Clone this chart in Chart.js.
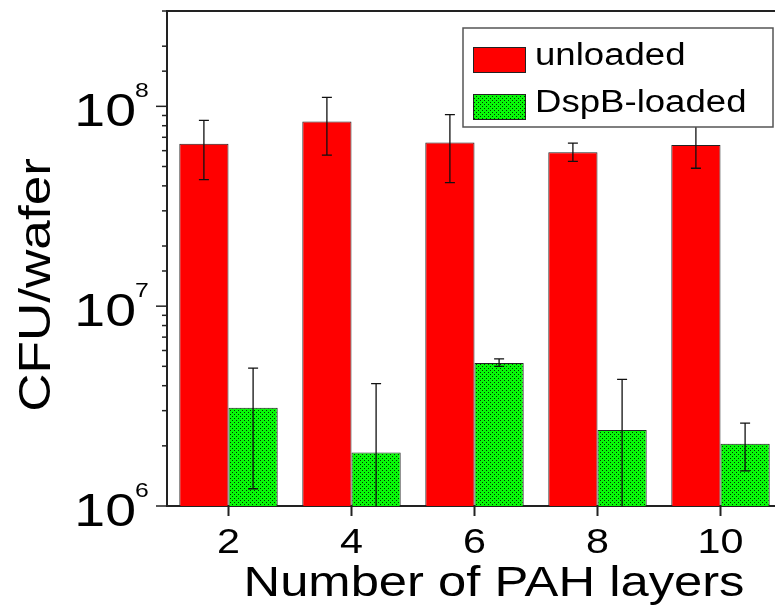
<!DOCTYPE html>
<html>
<head>
<meta charset="utf-8">
<script src="https://cdn.jsdelivr.net/npm/chart.js@4"></script>
<style>
  html, body { margin: 0; padding: 0; background: #fff; overflow: hidden; width: 775px; height: 614px; }
  #cfuChart { display: block; }
</style>
</head>
<body>
<canvas id="cfuChart" width="790" height="614"></canvas>
<script>
/* ---------------- DATA ---------------- */
const layers = ["2", "4", "6", "8", "10"];

const unloaded     = [6.5e7, 8.4e7, 6.6e7, 5.9e7, 6.4e7];
const unloadedLow  = [4.3e7, 5.7e7, 4.15e7, 5.3e7, 4.9e7];
const unloadedHigh = [8.5e7, 1.11e8, 9.1e7, 6.55e7, 8.6e7];

const loaded     = [3.1e6, 1.85e6, 5.2e6, 2.4e6, 2.05e6];
const loadedLow  = [1.22e6, null, 5.0e6, null, 1.5e6];   // null = below the axis
const loadedHigh = [4.9e6, 4.1e6, 5.45e6, 4.3e6, 2.6e6];

const yMin = 1e6;
const yMax = 3e8;

/* ---------------- HELPERS ---------------- */
const FONT = '"Liberation Sans", Arial, sans-serif';
const SX = 1.18;   // the reference text is drawn wide

function wideText(ctx, txt, x, y, size, align, rot) {
    ctx.save();
    ctx.translate(x, y);
    if (rot) ctx.rotate(rot);
    ctx.scale(SX, 1);
    ctx.font = size + "px " + FONT;
    ctx.fillStyle = "#000";
    ctx.textAlign = align;
    ctx.textBaseline = "alphabetic";
    ctx.fillText(txt, 0, 0);
    ctx.restore();
}

// green cross-hatch fill
const tile = document.createElement("canvas");
tile.width = 4;
tile.height = 4;
const tctx = tile.getContext("2d");
tctx.fillStyle = "#08f808";
tctx.fillRect(0, 0, 4, 4);
tctx.fillStyle = "#003300";
tctx.fillRect(0, 0, 1, 1);
tctx.fillRect(2, 2, 1, 1);
const greenFill = tctx.createPattern(tile, "repeat");

/* ---------------- PLUGINS ---------------- */
const errorBars = {
    id: "errorBars",
    afterDatasetsDraw(chart) {
        const ctx = chart.ctx;
        const y = chart.scales.y;
        const area = chart.chartArea;
        const lows = [unloadedLow, loadedLow];
        const highs = [unloadedHigh, loadedHigh];

        ctx.save();
        ctx.beginPath();
        ctx.rect(area.left, area.top, area.right - area.left, area.bottom - area.top);
        ctx.clip();
        ctx.strokeStyle = "#111";
        ctx.lineWidth = 1.3;

        chart.data.datasets.forEach((ds, i) => {
            chart.getDatasetMeta(i).data.forEach((bar, j) => {
                const x = bar.x;
                const hi = y.getPixelForValue(highs[i][j]);
                const lo = lowValue(lows[i][j], y, area);
                ctx.beginPath();
                ctx.moveTo(x, hi);
                ctx.lineTo(x, lo.px);
                ctx.moveTo(x - 5, hi);
                ctx.lineTo(x + 5, hi);
                if (lo.cap) {
                    ctx.moveTo(x - 5, lo.px);
                    ctx.lineTo(x + 5, lo.px);
                }
                ctx.stroke();
            });
        });
        ctx.restore();
    }
};

function lowValue(v, y, area) {
    if (v === null) return { px: area.bottom, cap: false };
    return { px: y.getPixelForValue(v), cap: true };
}

const decorations = {
    id: "decorations",
    afterDraw(chart) {
        const ctx = chart.ctx;
        const area = chart.chartArea;
        const y = chart.scales.y;
        const x = chart.scales.x;

        ctx.save();

        // frame top
        ctx.strokeStyle = "#222";
        ctx.lineWidth = 2;
        ctx.beginPath();
        ctx.moveTo(area.left - 1, area.top);
        ctx.lineTo(area.right + 10, area.top);
        ctx.stroke();

        // y ticks, major and minor
        ctx.lineWidth = 1.5;
        y.ticks.forEach(t => {
            const py = y.getPixelForValue(t.value);
            const exp = Math.log10(t.value);
            const major = Math.abs(exp - Math.round(exp)) < 1e-9;
            ctx.beginPath();
            ctx.moveTo(area.left, py);
            ctx.lineTo(area.left - (major ? 11 : 5), py);
            ctx.stroke();
            if (major) {
                wideText(ctx, "10", 136, py + 20, 47, "right");
                wideText(ctx, String(Math.round(exp)), 135, py - 9, 21, "left");
            }
        });

        // x tick labels
        layers.forEach((lab, i) => {
            wideText(ctx, lab, x.getPixelForValue(i), 553, 35, "center");
        });

        // axis titles
        wideText(ctx, "Number of PAH layers", 494, 596, 43, "center");
        wideText(ctx, "CFU/wafer", 50, 285, 45, "center", -Math.PI / 2);

        // legend
        const lx = 463, ly = 28, lw = 310, lh = 99;
        ctx.fillStyle = "#fff";
        ctx.fillRect(lx, ly, lw, lh);
        ctx.strokeStyle = "#555";
        ctx.lineWidth = 1.5;
        ctx.strokeRect(lx, ly, lw, lh);

        const rows = [47, 94];
        chart.data.datasets.forEach((ds, i) => {
            ctx.fillStyle = ds.backgroundColor;
            ctx.fillRect(473, rows[i], 52, 25);
            ctx.strokeStyle = "#222";
            ctx.lineWidth = 1;
            ctx.strokeRect(473.5, rows[i] + 0.5, 52, 25);
            wideText(ctx, ds.label, 535, rows[i] + 18, 31, "left");
        });

        ctx.restore();
    }
};

/* ---------------- CHART ---------------- */
const cfuChart = new Chart(document.getElementById("cfuChart"), {
    type: "bar",
    data: {
        labels: layers,
        datasets: [
            {
                label: "unloaded",
                data: unloaded,
                backgroundColor: "#ff0000",
                borderColor: "#222",
                borderWidth: 1
            },
            {
                label: "DspB-loaded",
                data: loaded,
                backgroundColor: greenFill,
                borderColor: "#222",
                borderWidth: 1
            }
        ]
    },
    options: {
        responsive: false,
        animation: false,
        devicePixelRatio: 1,
        layout: {
            padding: { left: 167, top: 11, right: 8, bottom: 98 }
        },
        datasets: {
            bar: { categoryPercentage: 0.8, barPercentage: 1.0 }
        },
        plugins: {
            legend: { display: false },
            tooltip: { enabled: false }
        },
        scales: {
            x: {
                offset: true,
                grid: {
                    offset: false,
                    drawOnChartArea: false,
                    drawTicks: true,
                    tickLength: 10,
                    tickWidth: 2,
                    tickColor: "#222"
                },
                border: { color: "#222", width: 2 },
                ticks: { display: false }
            },
            y: {
                type: "logarithmic",
                min: yMin,
                max: yMax,
                grid: { drawOnChartArea: false, drawTicks: false },
                border: { color: "#222", width: 2 },
                ticks: { display: false }
            }
        }
    },
    plugins: [errorBars, decorations]
});
</script>
</body>
</html>
